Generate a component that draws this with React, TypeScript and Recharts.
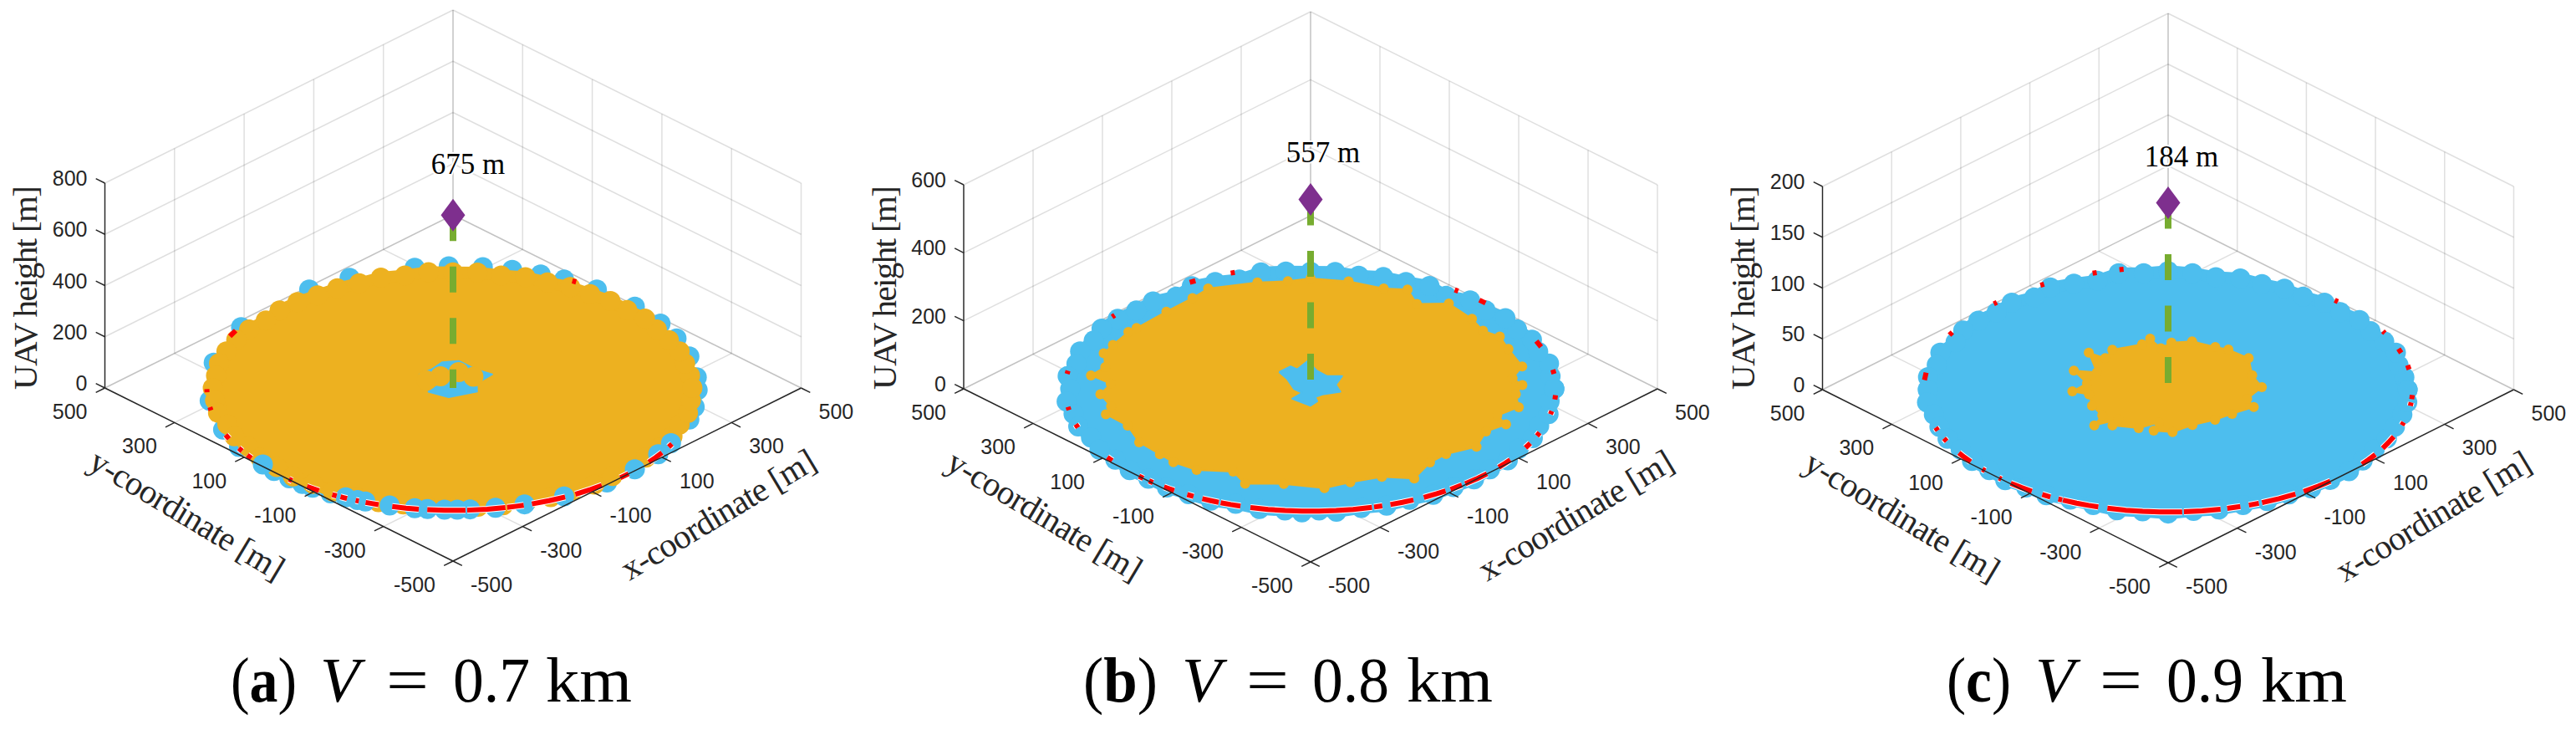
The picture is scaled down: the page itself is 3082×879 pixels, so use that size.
import { ScatterChart, Scatter, XAxis, YAxis } from "recharts"

type Polar = [number, number] // [angle around the disc in deg, radius in m]

const planTicks = [-500, -300, -100, 100, 300, 500]
const zTicksA = [0, 200, 400, 600, 800]
const zTicksB = [0, 200, 400, 600]
const zTicksC = [0, 50, 100, 150, 200]

const ringRadius = 500

const blueRimA: Polar[] = [[5, 497], [15, 497], [24, 497], [32, 497], [42, 497], [54, 497], [63, 497], [69, 497], [76, 497], [83, 497], [91, 497], [99, 497], [115, 497], [126, 497], [150, 497], [168, 497], [-174, 497], [-160, 497], [-151, 497], [-137, 497], [-132, 497], [-128, 497], [-125, 497], [-120, 497], [-51, 497], [-15, 497], [-9, 497], [-1, 497]]
const blueFrontA: Polar[] = [[-141, 497], [-116, 497], [-113, 497], [-111, 497], [-105, 497], [-99, 497], [-96, 497], [-92, 497], [-89, 497], [-86, 497], [-80, 497], [-73, 497], [-63, 497], [-42, 497], [-33, 497], [-27, 497]]
const orangeRimA: Polar[] = [[0, 486], [6, 484], [12, 482], [18, 484], [24, 480], [30, 478], [36, 482], [42, 476], [48, 478], [54, 474], [60, 476], [66, 472], [72, 476], [78, 470], [84, 474], [90, 472], [96, 476], [102, 470], [108, 474], [114, 468], [120, 470], [126, 468], [132, 472], [138, 474], [144, 470], [150, 478], [156, 482], [162, 484], [168, 486], [174, 484], [180, 488], [-174, 486], [-168, 488], [-162, 482], [-156, 486], [-150, 480], [-144, 484], [-138, 482], [-132, 486], [-126, 484], [-120, 488], [-114, 486], [-108, 490], [-102, 486], [-96, 488], [-90, 490], [-84, 488], [-78, 490], [-72, 486], [-66, 488], [-60, 484], [-54, 488], [-48, 484], [-42, 488], [-36, 484], [-30, 486], [-24, 488], [-18, 484], [-12, 488], [-6, 486]]
const holeA: Polar[] = [[142, 88], [119, 88], [102, 107], [84, 111], [59, 89], [35, 97], [22, 52], [-17, 51], [-103, 39], [-163, 52], [139, 30]]
const holeCoverA: Polar[] = [[118, 54], [80, 66], [48, 62], [150, 62]]
const redFrontA = [[-157.5, -155.5], [-150.5, -149], [-146.7, -145], [-131.8, -130.8], [-126.4, -125, -123], [-119.4, -118.2], [-117.2, -116.2, -115.5], [-113.3, -112.5], [-110.8, -109, -107.6], [-104.3, -101, -98], [-96, -92, -88, -87.1], [-86.7, -82, -77.7], [-77.3, -75, -73.3], [-71.3, -67, -62.9], [-60.2, -56, -52.8], [-47.2, -44.5], [-37.3, -34.5, -31.9], [-28.8, -27.2]]
const redBackA = [[60, 61], [152, 155], [-179.5, -178], [-171, -169.5]]

const blueRimB: Polar[] = [[0, 497], [6, 492], [12, 497], [18, 488], [24, 494], [30, 486], [36, 491], [42, 480], [48, 486], [54, 470], [60, 485], [66, 478], [72, 480], [78, 472], [84, 480], [90, 478], [96, 482], [102, 486], [108, 470], [114, 478], [120, 484], [126, 466], [132, 480], [138, 478], [144, 486], [150, 492], [156, 484], [162, 494], [168, 488], [174, 498], [180, 490], [-174, 500], [-168, 494], [-162, 498], [-156, 490], [-150, 497], [-144, 492], [-138, 496], [-132, 494], [-126, 498], [-120, 497], [-114, 500], [-108, 494], [-102, 502], [-96, 500], [-92, 505], [-88, 497], [-84, 505], [-78, 498], [-72, 502], [-66, 496], [-60, 500], [-54, 496], [-48, 498], [-42, 492], [-36, 497], [-30, 490], [-24, 496], [-18, 490], [-12, 496], [-6, 490]]
const orangeEdgeB: Polar[] = [[90, 451], [80, 446], [70, 436], [64, 451], [58, 409], [51, 448], [41, 436], [34, 424], [29, 441], [22, 435], [12, 441], [6, 414], [2, 432], [-3, 419], [-10, 431], [-16, 396], [-20, 424], [-26, 398], [-35, 413], [-44, 384], [-51, 387], [-60, 423], [-68, 388], [-78, 390], [-86, 407], [-98, 392], [-109, 410], [-115, 373], [-125, 405], [-133, 410], [-139, 407], [-148, 412], [-158, 402], [-166, 430], [-170, 413], [-177, 429], [177, 408], [173, 451], [168, 428], [161, 446], [156, 441], [148, 438], [145, 433], [133, 431], [123, 442], [117, 460], [104, 448], [96, 442]]
const holeB: Polar[] = [[133, 94], [114, 100], [109, 84], [93, 114], [80, 75], [57, 62], [39, 83], [18, 54], [-11, 62], [-44, 33], [-74, 35], [-75, 53], [-90, 69], [-133, 55], [-135, 24], [180, 34], [140, 62]]
const redFrontB = [[-163.2, -161.5], [-146, -144], [-134.4, -133], [-131.2, -130], [-126.7, -125, -123.8], [-120.2, -118.5], [-116.2, -114, -112], [-111.5, -109, -106.6], [-104.2, -100, -96, -92, -88, -84, -80, -75.5], [-75, -73], [-71, -68, -65.2], [-62.5, -59, -56.6], [-55.2, -51.9], [-50.9, -47, -44], [-39.9, -37.5, -35.5], [-28.8, -26.4], [-22.6, -21], [-12, -10.5]]
const redBackB = [[108, 109], [118, 119.5], [143, 144], [53, 54], [44.5, 46.5], [20, 23], [7, 9], [-5, -3], [171.5, 173], [-171.5, -170]]

const blueRimC: Polar[] = [[0, 490], [6, 486], [12, 482], [18, 490], [24, 484], [30, 478], [36, 484], [42, 474], [48, 478], [54, 470], [60, 476], [66, 472], [72, 478], [78, 470], [84, 478], [90, 484], [96, 478], [102, 486], [108, 468], [114, 474], [120, 482], [126, 466], [132, 478], [138, 472], [144, 480], [150, 484], [156, 476], [162, 490], [168, 484], [174, 494], [180, 492], [-174, 496], [-168, 490], [-162, 492], [-156, 494], [-150, 490], [-144, 496], [-138, 492], [-132, 498], [-126, 494], [-120, 498], [-114, 492], [-108, 496], [-102, 504], [-96, 500], [-90, 506], [-84, 498], [-78, 500], [-72, 496], [-66, 498], [-60, 494], [-54, 498], [-48, 496], [-42, 498], [-36, 492], [-30, 488], [-24, 490], [-18, 488], [-12, 490], [-6, 492]]
const orangeEdgeC: Polar[] = [[100, 212], [95, 170], [88, 192], [76, 203], [61, 199], [53, 205], [38, 209], [19, 182], [3, 192], [-13, 166], [-22, 189], [-37, 164], [-52, 156], [-71, 153], [-87, 174], [-100, 170], [-98, 135], [-111, 168], [-128, 185], [-130, 158], [-136, 210], [-142, 171], [-157, 169], [-173, 163], [-178, 196], [171, 168], [158, 208], [154, 162], [137, 222], [135, 182], [125, 199], [106, 193]]
const redFrontC = [[-162, -160.5], [-156.5, -155], [-148.9, -146.5, -143.9], [-139.5, -138.5], [-133.8, -133], [-130.1, -127, -123.9], [-121, -118.8], [-116.7, -115.7], [-115.5, -112, -109, -106.6], [-104.4, -100, -96, -92, -88, -86.7], [-86.3, -82, -77.6], [-76, -72.8], [-70.7, -68.2], [-67.4, -63, -58.6], [-56.3, -52, -48.4], [-37.5, -35, -32], [-28.6, -25.5, -22.6], [-16.9, -15.5], [-7.6, -6]]
const redBackC = [[107, 108], [100.5, 101.5], [120.5, 121.5], [134.5, 135.5], [152, 153.5], [172, 175.5], [17.5, 19.5], [9.5, 11.5], [-4.5, -2.5], [27.5, 28.5], [46, 47]]

const BLUE = "#4DBEEE"
const ORANGE = "#EDB120"
const RED = "#FF0000"
const GREEN = "#77AC30"
const PURPLE = "#7E2F8E"
const INK = "#262626"
const SANS = "'Liberation Sans', Arial, sans-serif"
const SERIF = "'Liberation Serif', 'Times New Roman', serif"
const MARKER_R = 12
const H = 879

const panels = [
  { id: "a", left: 0, width: 1030, cx: 542, cy: 464, halfW: 416.5, zPx: 245, zTicks: zTicksA, height: 675, heightLabel: "675 m", labelX: 18, labelY: 208, titleX: 30, blue: blueRimA, blueFill: false, blueFront: blueFrontA, orangeRim: orangeRimA, orangeEdge: [] as Polar[], hole: holeA, holeCover: holeCoverA, red: redFrontA, redBack: redBackA },
  { id: "b", left: 1030, width: 1020, cx: 1568, cy: 465, halfW: 415, zPx: 244, zTicks: zTicksB, height: 557, heightLabel: "557 m", labelX: 15, labelY: 194, titleX: 1058, blue: blueRimB, blueFill: true, blueFront: [] as Polar[], orangeRim: [] as Polar[], orangeEdge: orangeEdgeB, hole: holeB, holeCover: [] as Polar[], red: redFrontB, redBack: redBackB },
  { id: "c", left: 2050, width: 1032, cx: 2594, cy: 466, halfW: 413.5, zPx: 243, zTicks: zTicksC, height: 184, heightLabel: "184 m", labelX: 16, labelY: 199, titleX: 2085, blue: blueRimC, blueFill: true, blueFront: [] as Polar[], orangeRim: [] as Polar[], orangeEdge: orangeEdgeC, hole: [] as Polar[], holeCover: [] as Polar[], red: redFrontC, redBack: redBackC },
]

const captions = [
  { tag: "a", value: "0.7", open: 276, openW: 79, v: 383, eq: 462, num: 542, km: 653 },
  { tag: "b", value: "0.8", open: 1296, openW: 89, v: 1414, eq: 1491, num: 1570, km: 1683 },
  { tag: "c", value: "0.9", open: 2329, openW: 77, v: 2435, eq: 2512, num: 2592, km: 2705 },
]

const noMark = () => <g />
const disc = (fill: string, r = MARKER_R) => (p: any) => <circle cx={p.cx} cy={p.cy} r={r} fill={fill} />
const diamond = (p: any) => (
  <polygon
    points={`${p.cx},${p.cy - 19.5} ${p.cx + 14.5},${p.cy} ${p.cx},${p.cy + 19.5} ${p.cx - 14.5},${p.cy}`}
    fill={PURPLE}
  />
)
const textMark = (style: any, angle = 0) => (p: any) => (
  <text
    x={p.cx}
    y={p.cy}
    dominantBaseline="central"
    textAnchor={p.payload.anchor ?? "middle"}
    transform={angle ? `rotate(${angle} ${p.cx} ${p.cy})` : undefined}
    {...style}
  >
    {p.payload.label}
  </text>
)

function Panel({ panel }: { panel: (typeof panels)[number] }) {
  const { cx, cy, halfW, zPx, zTicks, left, width } = panel
  const ku = halfW / 1000
  const kv = 0.207
  const zMax = zTicks[zTicks.length - 1]
  const at = (x: number, y: number, z = 0) => ({
    u: (x - y) * ku,
    v: (x + y) * kv + (z * zPx) / zMax,
  })
  const polar = ([deg, r]: Polar) => {
    const p = r * Math.cos((deg * Math.PI) / 180)
    const q = r * Math.sin((deg * Math.PI) / 180)
    return at((p + q) / Math.SQRT2, (q - p) / Math.SQRT2)
  }
  const ring = (angles: number[]) => angles.map((deg) => polar([deg, ringRadius]))
  const closed = (pts: Polar[]) => [...pts, pts[0]].map(polar)

  const trace = (key: string, data: any[], line: any) => (
    <Scatter key={key} data={data} line={line} shape={noMark} isAnimationActive={false} />
  )
  const marks = (key: string, data: any[], shape: any) => (
    <Scatter key={key} data={data} shape={shape} isAnimationActive={false} />
  )
  const grid = { stroke: INK, strokeOpacity: 0.15, strokeWidth: 1.5 }
  const axis = { stroke: INK, strokeWidth: 1.4 }
  const solid = (color: string, width = 2) => ({
    stroke: color,
    strokeWidth: width,
    strokeLinejoin: "round",
    fill: color,
  })
  const tickLen = 26
  const tickFont = { fontFamily: SANS, fontSize: 25, fill: INK }
  const titleFont = { fontFamily: SERIF, fontSize: 41, fill: INK, lengthAdjust: "spacing" }

  const xLabels = planTicks.map((t) => {
    const b = at(t, -500)
    return { u: b.u + 21, v: b.v - 28, label: String(t), anchor: "start" }
  })
  const yLabels = planTicks.map((t) => {
    const b = at(-500, t)
    return { u: b.u - 21, v: b.v - 28, label: String(t), anchor: "end" }
  })
  const zLabels = zTicks.map((t) => {
    const b = at(-500, 500, t)
    return { u: b.u - 21, v: b.v + 6, label: String(t), anchor: "end" }
  })

  return (
    <div style={{ position: "absolute", left, top: 0 }}>
      <ScatterChart width={width} height={H} margin={{ top: 0, right: 0, bottom: 0, left: 0 }}>
        <XAxis type="number" dataKey="u" hide domain={[left - cx, left + width - cx]} allowDataOverflow />
        <YAxis type="number" dataKey="v" hide domain={[cy - H, cy]} allowDataOverflow />

        {planTicks.map((t) => trace(`floor-x${t}`, [at(t, -500), at(t, 500)], grid))}
        {planTicks.map((t) => trace(`floor-y${t}`, [at(-500, t), at(500, t)], grid))}
        {planTicks.map((t) => trace(`wall-l${t}`, [at(t, 500), at(t, 500, zMax)], grid))}
        {planTicks.map((t) => trace(`wall-r${t}`, [at(500, t), at(500, t, zMax)], grid))}
        {zTicks.map((t) => trace(`wall-lz${t}`, [at(-500, 500, t), at(500, 500, t)], grid))}
        {zTicks.map((t) => trace(`wall-rz${t}`, [at(500, 500, t), at(500, -500, t)], grid))}

        {panel.blueFill
          ? (
            <Scatter
              data={closed(panel.blue)}
              line={solid(BLUE, 14)}
              shape={disc(BLUE)}
              isAnimationActive={false}
            />
          )
          : marks("blue-rim", panel.blue.map(polar), disc(BLUE))}
        {panel.orangeRim.length > 0 && (
          <Scatter
            data={closed(panel.orangeRim)}
            line={solid(ORANGE, 14)}
            shape={disc(ORANGE)}
            isAnimationActive={false}
          />
        )}
        {panel.orangeEdge.length > 0 && trace("orange-edge", closed(panel.orangeEdge), solid(ORANGE))}
        {panel.orangeEdge.length > 0 && marks("orange-bumps", panel.orangeEdge.map(polar), disc(ORANGE, 6))}
        {panel.blueFront.length > 0 && marks("blue-front", panel.blueFront.map(polar), disc(BLUE))}
        {panel.hole.length > 0 && trace("hole", closed(panel.hole), solid(BLUE))}
        {panel.holeCover.length > 0 && marks("hole-cover", panel.holeCover.map(polar), disc(ORANGE))}

        {panel.redBack.map((arc, i) => trace(`back${i}`, ring(arc), { stroke: RED, strokeWidth: 6, fill: "none" }))}
        {panel.red.map((arc, i) => trace(`arc-casing${i}`, ring(arc), { stroke: "#fff", strokeWidth: 8, fill: "none" }))}
        {panel.red.map((arc, i) => trace(`arc${i}`, ring(arc), { stroke: RED, strokeWidth: 6, fill: "none" }))}

        {trace("axis-x", [at(-500, -500), at(500, -500)], axis)}
        {trace("axis-y", [at(-500, -500), at(-500, 500)], axis)}
        {trace("axis-z", [at(-500, 500), at(-500, 500, zMax)], axis)}
        {planTicks.map((t) => trace(`tick-x${t}`, [at(t, -500), at(t, -500 - tickLen)], axis))}
        {planTicks.map((t) => trace(`tick-y${t}`, [at(-500, t), at(-500 - tickLen, t)], axis))}
        {zTicks.map((t) => trace(`tick-z${t}`, [at(-500, 500, t), at(-500, 500 + tickLen, t)], axis))}

        {trace("uav-drop", [at(0, 0, panel.height), at(0, 0)], {
          stroke: GREEN,
          strokeWidth: 8,
          strokeDasharray: "31 30.5",
          fill: "none",
        })}
        {marks("uav", [at(0, 0, panel.height)], diamond)}
        {marks("uav-label", [{ u: panel.labelX, v: cy - panel.labelY + 12, label: panel.heightLabel }], textMark({
          fontFamily: SERIF,
          fontSize: 35,
          fill: "#000",
          stroke: "#fff",
          strokeWidth: 4,
          paintOrder: "stroke",
        }))}

        {marks("x-labels", xLabels, textMark(tickFont))}
        {marks("y-labels", yLabels, textMark(tickFont))}
        {marks("z-labels", zLabels, textMark(tickFont))}
        {marks("x-title", [{ u: 317, v: -151, label: "x-coordinate [m]" }], textMark({ ...titleFont, textLength: 264 }, -31))}
        {marks("y-title", [{ u: -318, v: -151, label: "y-coordinate [m]" }], textMark({ ...titleFont, textLength: 264 }, 31))}
        {marks("z-title", [{ u: panel.titleX - cx, v: cy - 344, label: "UAV height [m]" }], textMark({ ...titleFont, textLength: 244 }, -90))}
      </ScatterChart>
    </div>
  )
}

export default function App() {
  const base = { fontFamily: SERIF, fontSize: 77, fill: "#000" }
  return (
    <div style={{ position: "absolute", left: 0, top: 0, width: 3082, height: H, background: "#fff" }}>
      {panels.map((p) => (
        <Panel key={p.id} panel={p} />
      ))}
      <svg width={3082} height={H} style={{ position: "absolute", left: 0, top: 0, pointerEvents: "none" }}>
        {captions.map((c) => (
          <g key={c.tag} {...base}>
            <text x={c.open} y={839} textLength={c.openW} lengthAdjust="spacingAndGlyphs">
              (<tspan fontWeight="bold">{c.tag}</tspan>)
            </text>
            <text x={c.v} y={839} fontStyle="italic">
              V
            </text>
            <text x={c.eq} y={839} textLength={51} lengthAdjust="spacingAndGlyphs">
              =
            </text>
            <text x={c.num} y={839} textLength={92} lengthAdjust="spacingAndGlyphs">
              {c.value}
            </text>
            <text x={c.km} y={839} textLength={103} lengthAdjust="spacingAndGlyphs">
              km
            </text>
          </g>
        ))}
      </svg>
    </div>
  )
}
